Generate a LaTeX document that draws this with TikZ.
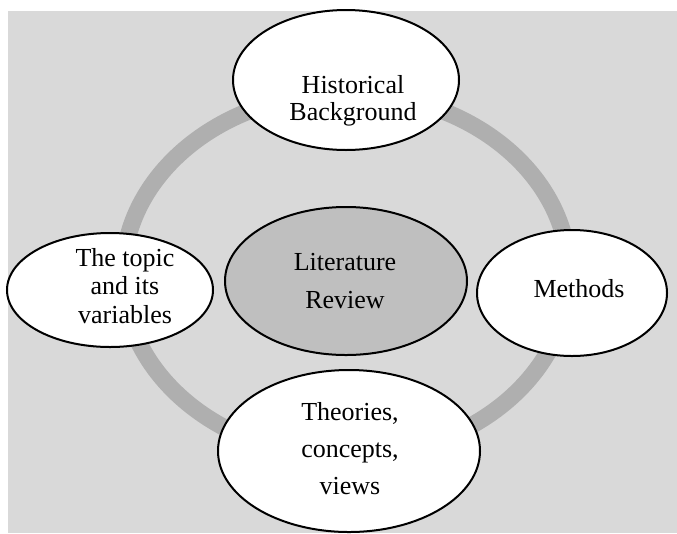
\documentclass[tikz,border=0pt]{standalone}
\usepackage{fontspec}
\setmainfont{Liberation Serif}
\usetikzlibrary{shapes.geometric}

\definecolor{panelgray}{HTML}{D9D9D9}
\definecolor{ringgray}{HTML}{AFAFAF}
\definecolor{hubgray}{HTML}{BFBFBF}

% stacked lines, baseline of the first line is the node's base
\newcommand{\stackedlines}[1]{\begin{tabular}[t]{@{}c@{}}#1\end{tabular}}

\tikzset{
  bubble/.style={ellipse, draw=black, line width=1.5pt, fill=white, inner sep=0pt},
  hub/.style={bubble, fill=hubgray},
  ringline/.style={draw=ringgray, line width=12.75pt},
  caption/.style={anchor=base, inner sep=0pt, text=black},
}

\begin{document}
\begin{tikzpicture}[x=0.75pt, y=-0.75pt]
  \useasboundingbox (0,0) rectangle (677,533);
  \fill[panelgray] (8,11) rectangle (677,533);

  % cycle ring behind the bubbles
  \draw[ringline] (346,275) ellipse [x radius=167.25pt, y radius=136.5pt];

  % bubbles
  \node[hub,    minimum width=181.5pt, minimum height=111pt]   (hubshape)  at (346,281) {};
  \node[bubble, minimum width=169.5pt, minimum height=105pt]   (histshape) at (346,80)  {};
  \node[bubble, minimum width=142.5pt, minimum height=94.5pt]  (methshape) at (572,293) {};
  \node[bubble, minimum width=196.5pt, minimum height=121.5pt] (theoshape) at (349,451) {};
  \node[bubble, minimum width=154.5pt, minimum height=85.5pt]  (topicshape) at (110,290) {};

  % captions
  \node[caption, font=\fontsize{19.5}{28.5}\selectfont] (hubtext) at (345,270)
    {\stackedlines{Literature\\Review}};
  \node[caption, font=\fontsize{19.5}{20.25}\selectfont] (histtext) at (353,93)
    {\stackedlines{Historical\\Background}};
  \node[caption, font=\fontsize{19.5}{20.25}\selectfont] (methtext) at (579,297)
    {Methods};
  \node[caption, font=\fontsize{19.5}{28.1}\selectfont] (theotext) at (350,420)
    {\stackedlines{Theories,\\concepts,\\views}};
  \node[caption, font=\fontsize{19.5}{21.4}\selectfont] (topictext) at (125,266)
    {\stackedlines{The topic\\and its\\variables}};
\end{tikzpicture}
\end{document}
